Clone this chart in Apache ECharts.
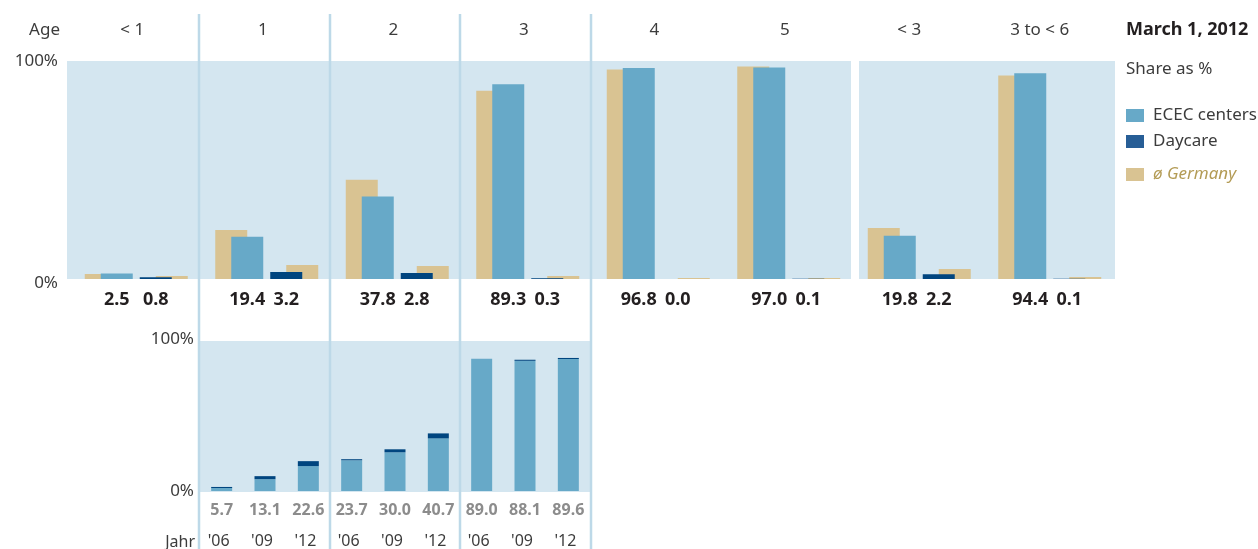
<!DOCTYPE html>
<html>
<head>
<meta charset="utf-8">
<script src="https://cdn.jsdelivr.net/npm/echarts@6/dist/echarts.min.js"></script>
<style>
html,body{margin:0;padding:0;background:#fff;}
#chart{width:1258px;height:549px;}
</style>
</head>
<body>
<div id="chart"></div>
<script>
// ---- data ----
const ageGroups = ['< 1', '1', '2', '3', '4', '5', '< 3', '3 to < 6'];
const ecec2012 = [2.5, 19.4, 37.8, 89.3, 96.8, 97.0, 19.8, 94.4];
const daycare2012 = [0.8, 3.2, 2.8, 0.3, 0.0, 0.1, 2.2, 0.1];
const germanyEcec = [2.3, 22.5, 45.5, 86.4, 96.1, 97.5, 23.4, 93.3];
const germanyDaycare = [1.4, 6.4, 6.0, 1.4, 0.5, 0.5, 4.6, 0.9];

const yearLabels = ["'06", "'09", "'12", "'06", "'09", "'12", "'06", "'09", "'12"];
const trendEcec = [2.0, 7.9, 16.6, 20.5, 25.8, 35.1, 88.1, 86.8, 88.0];
const trendDaycare = [0.7, 2.0, 3.3, 0.7, 2.0, 3.3, 0.0, 0.7, 0.7];
const trendTotals = ['5.7', '13.1', '22.6', '23.7', '30.0', '40.7', '89.0', '88.1', '89.6'];

const yTicks = [0, 100];

// ---- styles ----
const FONT = '"Noto Sans", "Open Sans", sans-serif';
const C_ECEC = '#67a9c8';
const C_DAY = '#00457f';
const C_DAY_LEG = '#275e96';
const C_GER = '#d9c392';
const C_BG = '#d4e6f0';
const C_SEP = '#bdd9e8';
const C_TXT = '#3c3c3c';

const chart = echarts.init(document.getElementById('chart'), null, {renderer: 'canvas'});

const pct = v => v + '%';
const hiddenY = gi => ({gridIndex: gi, type: 'value', min: yTicks[0], max: yTicks[1], show: false});
const hiddenX = gi => ({gridIndex: gi, type: 'category', data: ageGroups, show: false});

const valueLabel = {
  show: true, position: 'bottom', distance: 12,
  fontFamily: FONT, fontSize: 18, fontWeight: 'bold', color: '#231f20',
  formatter: p => p.value.toFixed(1)
};

const option = {
  animation: false,
  backgroundColor: '#fff',
  textStyle: {fontFamily: FONT},
  legend: [
    {
      left: 1126, top: 107, orient: 'vertical', selectedMode: false, padding: 0,
      itemWidth: 18, itemHeight: 13, itemGap: 9, icon: 'rect',
      textStyle: {fontFamily: FONT, fontSize: 17, color: C_TXT, padding: [0, 0, 0, 4]},
      data: [
        {name: 'ECEC centers', itemStyle: {color: C_ECEC}},
        {name: 'Daycare', itemStyle: {color: C_DAY_LEG}}
      ]
    },
    {
      left: 1126, top: 166, orient: 'vertical', selectedMode: false, padding: 0,
      itemWidth: 18, itemHeight: 13, icon: 'rect',
      textStyle: {fontFamily: FONT, fontSize: 17, color: '#b39b55', fontStyle: 'italic', padding: [0, 0, 0, 4]},
      data: [{name: 'ø Germany', itemStyle: {color: C_GER}}]
    }
  ],
  grid: [
    {left: 43.5, top: 61, width: 1044, height: 218},
    {left: 98.5, top: 61, width: 1044, height: 218},
    {left: 67, top: 61, width: 1044, height: 218},
    {left: 200, top: 341, width: 390, height: 151}
  ],
  xAxis: [
    hiddenX(0),
    hiddenX(1),
    {
      gridIndex: 2, type: 'category', data: ageGroups, position: 'top',
      axisLine: {show: false}, axisTick: {show: false},
      axisLabel: {
        margin: 22, fontFamily: FONT, fontSize: 17, color: C_TXT, interval: 0,
        formatter: (v, i) => i >= 6 ? '{s|' + v + '}' : v,
        rich: {s: {fontFamily: FONT, fontSize: 17, color: C_TXT, padding: [0, 12, 0, 0]}}
      }
    },
    {
      gridIndex: 3, type: 'category', data: yearLabels,
      axisLine: {show: false}, axisTick: {show: false},
      axisLabel: {margin: 42, fontFamily: FONT, fontSize: 16, color: C_TXT, interval: 0,
        padding: [0, 6, 0, 0]}
    }
  ],
  yAxis: [
    hiddenY(0),
    hiddenY(1),
    {
      gridIndex: 2, type: 'value', min: yTicks[0], max: yTicks[1], interval: 100,
      axisLine: {show: false}, axisTick: {show: false}, splitLine: {show: false},
      axisLabel: {
        margin: 9, fontFamily: FONT, fontSize: 17, color: C_TXT,
        formatter: v => v === yTicks[0] ? '{lo|' + pct(v) + '}' : pct(v),
        rich: {lo: {fontFamily: FONT, fontSize: 17, color: C_TXT, padding: [8, 0, 0, 0]}}
      }
    },
    {
      gridIndex: 3, type: 'value', min: yTicks[0], max: yTicks[1], interval: 100,
      axisLine: {show: false}, axisTick: {show: false}, splitLine: {show: false},
      axisLabel: {
        margin: 6, fontFamily: FONT, fontSize: 17, color: C_TXT,
        formatter: v => v === yTicks[1] ? '{hi|' + pct(v) + '}' : pct(v),
        rich: {hi: {fontFamily: FONT, fontSize: 17, color: C_TXT, padding: [0, 0, 4, 0]}}
      }
    }
  ],
  series: [
    {
      name: 'ø Germany', type: 'bar', xAxisIndex: 0, yAxisIndex: 0,
      data: germanyEcec, barWidth: 32, barGap: '-50%', z: 2,
      itemStyle: {color: C_GER}
    },
    {
      name: 'ECEC centers', type: 'bar', xAxisIndex: 0, yAxisIndex: 0,
      data: ecec2012, barWidth: 32, barGap: '-50%', z: 3,
      itemStyle: {color: C_ECEC}, label: valueLabel
    },
    {
      name: 'Daycare', type: 'bar', xAxisIndex: 1, yAxisIndex: 1,
      data: daycare2012, barWidth: 32, barGap: '-50%', z: 3,
      itemStyle: {color: C_DAY}, label: valueLabel
    },
    {
      name: 'ø Germany', type: 'bar', xAxisIndex: 1, yAxisIndex: 1,
      data: germanyDaycare, barWidth: 32, barGap: '-50%', z: 2,
      itemStyle: {color: C_GER}
    },
    {
      name: 'ECEC centers', type: 'bar', xAxisIndex: 3, yAxisIndex: 3,
      data: trendEcec, stack: 'trend', barWidth: 21, z: 3,
      itemStyle: {color: C_ECEC},
      label: {
        show: true, position: 'bottom', distance: 11,
        fontFamily: FONT, fontSize: 16, fontWeight: 'bold', color: '#8c8c8c',
        formatter: p => trendTotals[p.dataIndex]
      }
    },
    {
      name: 'Daycare', type: 'bar', xAxisIndex: 3, yAxisIndex: 3,
      data: trendDaycare, stack: 'trend', barWidth: 21, z: 3,
      itemStyle: {color: C_DAY}
    }
  ],
  graphic: {
    elements: [
      {type: 'rect', z: 0, silent: true, shape: {x: 67, y: 61, width: 784, height: 218}, style: {fill: C_BG}},
      {type: 'rect', z: 0, silent: true, shape: {x: 859, y: 61, width: 256, height: 218}, style: {fill: C_BG}},
      {type: 'rect', z: 0, silent: true, shape: {x: 200, y: 341, width: 390, height: 151}, style: {fill: C_BG}},
      {type: 'line', z: 1, silent: true, shape: {x1: 199, y1: 14, x2: 199, y2: 549}, style: {stroke: C_SEP, lineWidth: 2.5}},
      {type: 'line', z: 1, silent: true, shape: {x1: 330, y1: 14, x2: 330, y2: 549}, style: {stroke: C_SEP, lineWidth: 2.5}},
      {type: 'line', z: 1, silent: true, shape: {x1: 460, y1: 14, x2: 460, y2: 549}, style: {stroke: C_SEP, lineWidth: 2.5}},
      {type: 'line', z: 1, silent: true, shape: {x1: 591, y1: 14, x2: 591, y2: 549}, style: {stroke: C_SEP, lineWidth: 2.5}},
      {type: 'text', z: 5, style: {text: 'Age', x: 60, y: 30, align: 'right', verticalAlign: 'middle', font: '17px ' + FONT, fill: C_TXT}},
      {type: 'text', z: 5, style: {text: 'March 1, 2012', x: 1126, y: 30, align: 'left', verticalAlign: 'middle', font: 'bold 18px ' + FONT, fill: '#231f20'}},
      {type: 'text', z: 5, style: {text: 'Share as %', x: 1126, y: 69, align: 'left', verticalAlign: 'middle', font: '17px ' + FONT, fill: C_TXT}},
      {type: 'text', z: 5, style: {text: 'Jahr', x: 195, y: 542, align: 'right', verticalAlign: 'middle', font: '16px ' + FONT, fill: C_TXT}}
    ]
  }
};

chart.setOption(option);
</script>
</body>
</html>
